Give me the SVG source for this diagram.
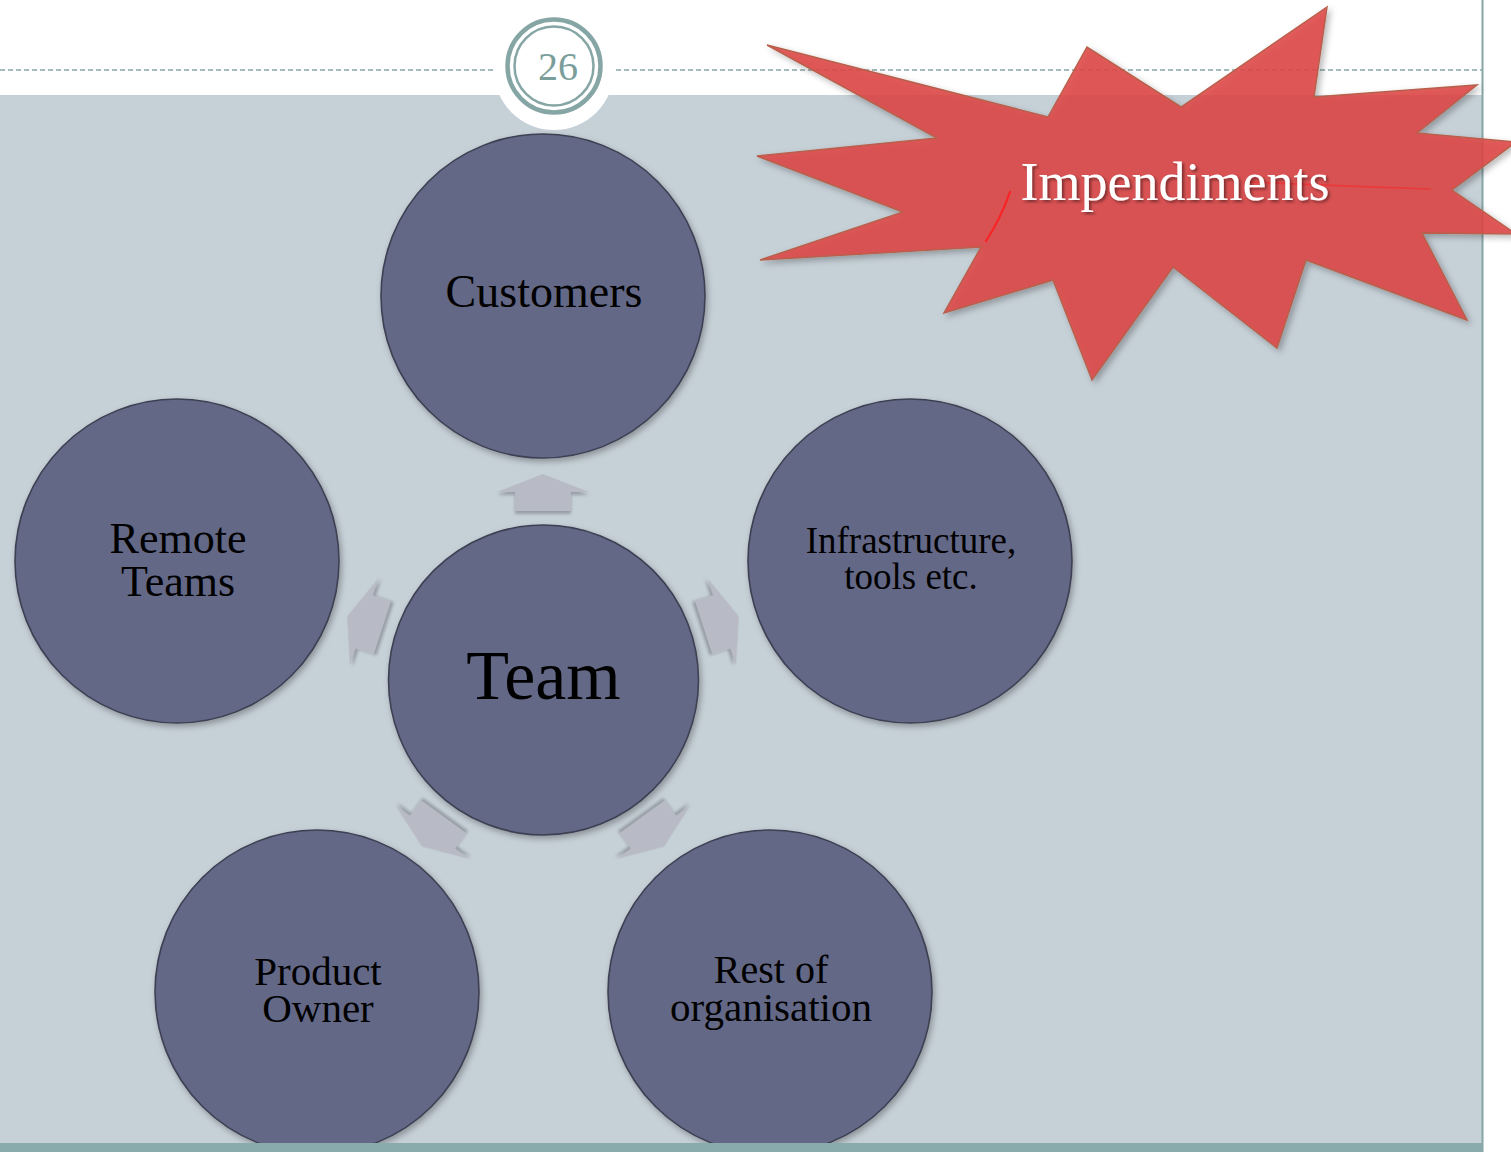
<svg xmlns="http://www.w3.org/2000/svg" width="1511" height="1152" viewBox="0 0 1511 1152">
  <style>
    .node { fill: #636787; stroke: #3e4152; stroke-width: 1.6; filter: url(#nodeShadow); }
    .label { font-family: "Liberation Serif", "DejaVu Serif", serif; fill: #000; text-anchor: middle; }
    .arrow { fill: #b8bbc5; filter: url(#arrowShadow); }
    .teal { stroke: #86a6a5; fill: none; }
  </style>
  <defs>
    <filter id="nodeShadow" x="-10%" y="-10%" width="125%" height="125%">
      <feDropShadow dx="2" dy="3" stdDeviation="3" flood-color="#000" flood-opacity="0.3"/>
    </filter>
    <filter id="arrowShadow" x="-30%" y="-30%" width="160%" height="160%">
      <feDropShadow dx="0" dy="3" stdDeviation="1.5" flood-color="#6f737c" flood-opacity="0.55"/>
    </filter>
    <filter id="burstShadow" x="-10%" y="-10%" width="125%" height="125%">
      <feDropShadow dx="3" dy="3" stdDeviation="3" flood-color="#000" flood-opacity="0.3"/>
    </filter>
    <filter id="textShadow" x="-10%" y="-30%" width="120%" height="160%">
      <feDropShadow dx="2" dy="2" stdDeviation="1.5" flood-color="#000" flood-opacity="0.45"/>
    </filter>
    <!-- block arrow pointing up, placed relative to the Team centre -->
    <path id="arrowShape" d="M0,-206 L46,-188 L28,-188 L28,-169 L-28,-169 L-28,-188 L-46,-188 Z"/>
  </defs>

  <!-- slide frame -->
  <rect x="0" y="0" width="1511" height="1152" fill="#ffffff"/>
  <rect x="0" y="95" width="1482" height="1048" fill="#c6d0d7"/>
  <line class="teal" x1="0" y1="70" x2="1482" y2="70" stroke-width="1.6" stroke-dasharray="5 3"/>
  <line class="teal" x1="1482.5" y1="0" x2="1482.5" y2="1152" stroke-width="2"/>

  <!-- slide number badge -->
  <g id="slide-number">
    <circle cx="554" cy="70" r="60" fill="#ffffff"/>
    <circle class="teal" cx="554" cy="66" r="46.5" stroke="#7b9e9b" stroke-width="4.5"/>
    <circle class="teal" cx="554" cy="66" r="39.5" stroke="#7b9e9b" stroke-width="2.5"/>
    <text x="558" y="80" font-family="Liberation Serif, DejaVu Serif, serif" font-size="40" fill="#7b9e9b" text-anchor="middle">26</text>
  </g>

  <!-- connectors: arrows radiating from Team -->
  <g id="connectors">
    <use href="#arrowShape" class="arrow" transform="translate(543,680)"/>
    <use href="#arrowShape" class="arrow" transform="translate(543,680) rotate(72)"/>
    <use href="#arrowShape" class="arrow" transform="translate(543,680) rotate(144)"/>
    <use href="#arrowShape" class="arrow" transform="translate(543,680) rotate(216)"/>
    <use href="#arrowShape" class="arrow" transform="translate(543,680) rotate(288)"/>
  </g>

  <g id="customers">
    <circle class="node" cx="543" cy="296" r="162"/>
    <text class="label" x="544" y="307" font-size="46">Customers</text>
  </g>

  <g id="remote-teams">
    <circle class="node" cx="177" cy="561" r="162"/>
    <text class="label" x="178" y="553" font-size="44">Remote</text>
    <text class="label" x="178" y="596" font-size="44">Teams</text>
  </g>

  <g id="infrastructure">
    <circle class="node" cx="910" cy="561" r="162"/>
    <text class="label" x="911" y="553" font-size="37">Infrastructure,</text>
    <text class="label" x="911" y="589" font-size="37">tools etc.</text>
  </g>

  <g id="team">
    <circle class="node" cx="543.5" cy="680" r="155"/>
    <text class="label" x="543.5" y="699" font-size="70">Team</text>
  </g>

  <g id="product-owner">
    <circle class="node" cx="317" cy="992" r="162"/>
    <text class="label" x="318" y="985" font-size="41">Product</text>
    <text class="label" x="318" y="1022" font-size="41">Owner</text>
  </g>

  <g id="rest-of-organisation">
    <circle class="node" cx="770" cy="992" r="162"/>
    <text class="label" x="771" y="983" font-size="40">Rest of</text>
    <text class="label" x="771" y="1021" font-size="41">organisation</text>
  </g>

  <!-- bottom bar -->
  <rect x="0" y="1143" width="1482" height="9" fill="#8aabab"/>

  <!-- impediments starburst -->
  <g id="impediments">
    <polygon filter="url(#burstShadow)" fill="#de4747" fill-opacity="0.88" stroke="#b8604c" stroke-width="1.5" stroke-linejoin="miter"
      points="767,45 1048,117 1087,47 1181,107 1327,7 1314,97 1477,85 1417,133 1516,142 1452,190 1516,234 1422,233 1467,320 1306,260 1277,348 1173,267 1092,380 1053,280 944,313 981,247 760,260 903,212 757,156 937,138"/>
    <path d="M1010,192 Q1000,220 986,241" fill="none" stroke="#ff1a1a" stroke-width="2.2" stroke-linecap="round" opacity="0.85"/>
    <path d="M1250,182 Q1340,186 1430,189" fill="none" stroke="#ff1a1a" stroke-width="1.6" stroke-linecap="round" opacity="0.45"/>
    <text x="1175" y="200" font-family="Liberation Serif, DejaVu Serif, serif" font-size="54" fill="#ffffff" text-anchor="middle" filter="url(#textShadow)">Impendiments</text>
  </g>
</svg>
